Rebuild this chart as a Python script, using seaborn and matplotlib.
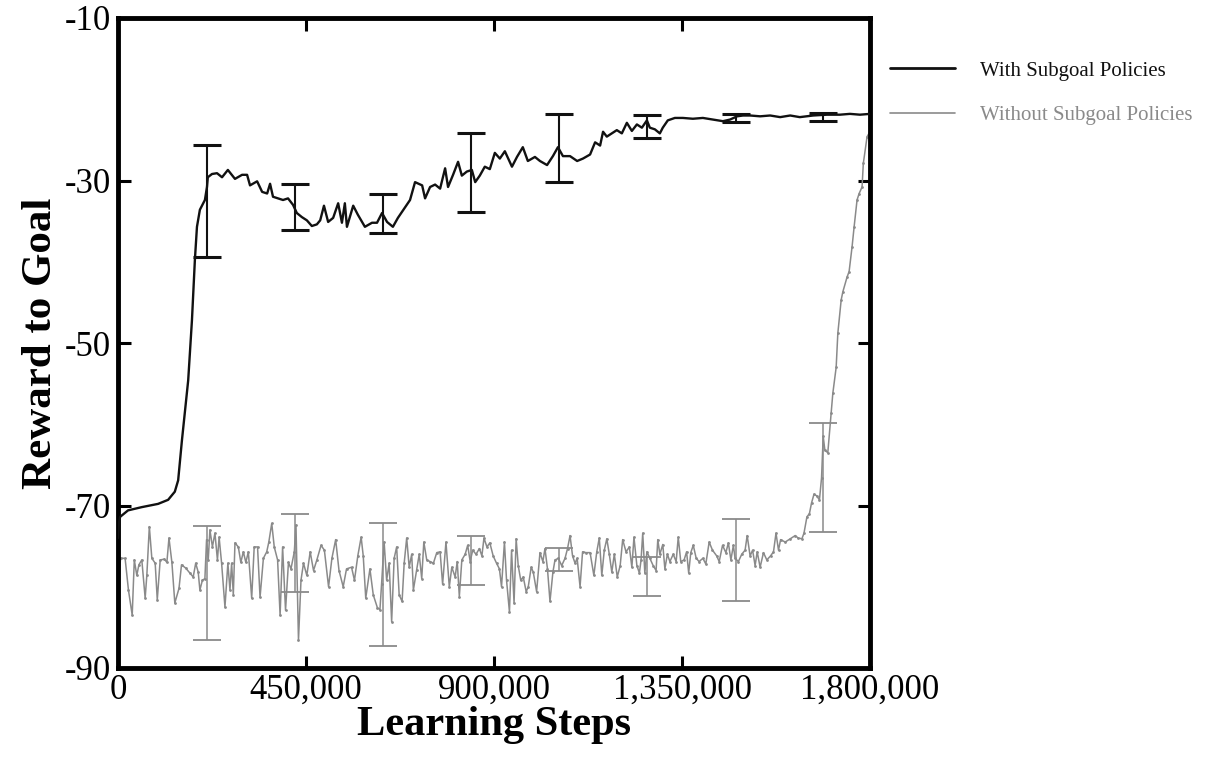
import numpy as np
import pandas as pd
import matplotlib
matplotlib.use("Agg")
import matplotlib.pyplot as plt
import seaborn as sns
from matplotlib.lines import Line2D
from matplotlib.ticker import FuncFormatter

# ---------------- data (learning steps in thousands) ----------------
with_steps_k = [0, 2, 5, 24, 57, 96, 120, 136, 144, 153,
                160, 168, 177, 184, 189, 196, 208, 213, 215, 225,
                237, 249, 263, 280, 297, 309, 316, 333, 345, 357,
                364, 371, 383, 395, 407, 419, 428, 440, 452, 464,
                476, 484, 493, 503, 515, 527, 536, 543, 548, 563,
                574, 591, 608, 620, 632, 644, 658, 670, 687, 699,
                711, 728, 735, 747, 759, 771, 783, 790, 802, 814,
                823, 835, 847, 855, 866, 878, 890, 902, 914, 926,
                943, 955, 969, 981, 998, 1010, 1027, 1041, 1053, 1065,
                1082, 1099, 1113, 1130, 1142, 1154, 1161, 1170, 1182, 1194,
                1206, 1218, 1230, 1242, 1254, 1266, 1273, 1285, 1297, 1304,
                1316, 1333, 1352, 1376, 1400, 1424, 1448, 1465, 1482, 1496,
                1513, 1537, 1561, 1585, 1609, 1632, 1664, 1697, 1728, 1752,
                1776, 1800]
with_reward = [-74.0, -72.2, -71.4, -70.6, -70.2, -69.8, -69.3, -68.3, -66.9, -62.0,
               -58.5, -54.6, -47.2, -39.8, -35.7, -33.6, -32.4, -30.8, -29.6, -29.2,
               -29.1, -29.6, -28.7, -29.8, -29.3, -29.3, -30.6, -30.1, -31.4, -31.6,
               -30.4, -32.0, -32.2, -32.4, -32.2, -33.0, -34.0, -34.5, -34.9, -35.6,
               -35.4, -34.9, -33.1, -35.1, -34.6, -32.8, -35.2, -32.8, -35.7, -33.1,
               -34.2, -35.7, -35.2, -35.2, -34.0, -35.1, -35.7, -34.6, -33.3, -32.4,
               -30.2, -30.6, -32.2, -30.8, -30.5, -31.0, -28.5, -30.8, -29.3, -27.7,
               -29.4, -28.9, -28.7, -30.2, -29.4, -28.3, -28.6, -26.6, -27.3, -26.4,
               -28.3, -27.1, -25.9, -27.6, -27.1, -27.6, -28.1, -27.0, -25.9, -27.0,
               -27.0, -27.6, -27.3, -26.8, -25.3, -25.7, -24.0, -24.6, -24.2, -23.8,
               -24.2, -22.9, -23.9, -23.1, -23.5, -22.6, -23.5, -23.7, -24.2, -23.5,
               -22.6, -22.3, -22.3, -22.4, -22.3, -22.5, -22.7, -22.5, -22.1, -22.0,
               -22.0, -22.1, -22.0, -22.2, -22.0, -22.2, -22.0, -21.9, -21.9, -21.8,
               -21.9, -21.8]

without_steps_k = [0, 6, 17, 25, 34, 39, 45, 50, 57, 65,
                   69, 75, 81, 89, 94, 101, 111, 117, 122, 129,
                   136, 146, 152, 162, 172, 180, 186, 192, 196, 202,
                   208, 212, 216, 220, 226, 232, 238, 242, 248, 256,
                   263, 268, 272, 276, 280, 288, 294, 300, 306, 312,
                   320, 326, 334, 340, 348, 356, 361, 368, 374, 382,
                   388, 394, 401, 408, 414, 422, 426, 432, 438, 444,
                   452, 460, 468, 476, 486, 494, 504, 512, 521, 529,
                   539, 547, 559, 566, 574, 582, 587, 593, 603, 611,
                   621, 627, 631, 637, 643, 649, 655, 661, 667, 673,
                   680, 685, 691, 697, 703, 707, 715, 721, 727, 732,
                   739, 747, 755, 763, 771, 777, 785, 793, 799, 807,
                   812, 817, 823, 831, 837, 843, 849, 857, 865, 871,
                   876, 883, 890, 898, 906, 913, 918, 925, 930, 937,
                   942, 948, 953, 958, 964, 970, 977, 982, 989, 994,
                   1002, 1010, 1017, 1022, 1028, 1034, 1041, 1046, 1054, 1062,
                   1070, 1076, 1082, 1088, 1094, 1099, 1106, 1112, 1120, 1130,
                   1139, 1146, 1152, 1158, 1164, 1170, 1176, 1182, 1188, 1195,
                   1202, 1208, 1216, 1224, 1230, 1235, 1242, 1248, 1252, 1256,
                   1261, 1266, 1273, 1281, 1288, 1292, 1297, 1304, 1309, 1315,
                   1321, 1329, 1336, 1341, 1347, 1355, 1361, 1366, 1371, 1377,
                   1384, 1391, 1400, 1407, 1415, 1423, 1433, 1439, 1447, 1455,
                   1461, 1467, 1473, 1477, 1485, 1493, 1501, 1506, 1513, 1519,
                   1525, 1530, 1537, 1545, 1553, 1562, 1569, 1575, 1581, 1586,
                   1597, 1609, 1621, 1628, 1637, 1642, 1649, 1655, 1660, 1666,
                   1672, 1679, 1684, 1688, 1692, 1699, 1707, 1711, 1719, 1723,
                   1731, 1735, 1745, 1750, 1757, 1762, 1769, 1774, 1781, 1784,
                   1793, 1800]
without_reward = [-81.0, -76.5, -76.5, -80.4, -83.5, -76.7, -78.6, -77.3, -76.7, -81.4,
                  -78.6, -72.6, -76.5, -77.1, -81.6, -76.7, -76.6, -77.0, -74.0, -77.0,
                  -82.0, -80.2, -77.3, -77.7, -78.3, -78.8, -77.1, -78.2, -80.4, -79.2,
                  -79.0, -74.2, -76.7, -73.0, -75.1, -73.4, -76.7, -73.9, -77.1, -82.5,
                  -77.1, -80.4, -77.1, -81.0, -74.6, -75.1, -77.0, -75.7, -77.0, -75.7,
                  -81.4, -75.1, -75.1, -81.3, -76.5, -75.7, -74.5, -72.2, -75.1, -76.7,
                  -83.5, -75.1, -82.9, -77.0, -77.8, -75.7, -72.4, -86.6, -79.2, -77.1,
                  -78.6, -75.7, -78.0, -76.7, -74.9, -75.5, -80.0, -76.5, -74.2, -78.0,
                  -80.0, -77.8, -77.6, -79.2, -76.2, -73.9, -76.2, -81.4, -77.8, -81.0,
                  -82.6, -82.8, -79.6, -74.5, -79.2, -77.1, -84.3, -76.5, -75.1, -81.0,
                  -81.8, -77.1, -74.0, -77.6, -76.0, -80.4, -77.9, -76.0, -79.0, -74.5,
                  -76.7, -76.9, -77.1, -75.8, -75.7, -79.7, -74.5, -80.0, -77.6, -78.8,
                  -76.9, -81.2, -76.7, -76.0, -74.9, -76.9, -75.5, -76.0, -75.3, -76.2,
                  -74.0, -75.1, -74.6, -76.2, -77.1, -77.8, -80.0, -74.5, -79.2, -83.1,
                  -75.5, -82.0, -74.1, -77.4, -79.2, -78.8, -80.6, -80.0, -77.6, -78.2,
                  -80.6, -75.8, -76.9, -75.3, -77.8, -81.8, -78.2, -76.7, -76.5, -77.4,
                  -76.5, -75.3, -73.7, -76.2, -77.1, -76.5, -80.0, -75.7, -75.8, -75.8,
                  -78.6, -75.7, -74.0, -78.6, -75.5, -74.1, -76.0, -78.2, -76.0, -78.8,
                  -77.4, -74.2, -75.7, -75.1, -77.6, -73.9, -77.4, -78.3, -76.7, -73.4,
                  -78.3, -75.7, -76.5, -77.4, -78.0, -74.2, -76.0, -74.8, -77.8, -76.0,
                  -76.9, -76.0, -76.9, -73.9, -76.9, -76.7, -75.7, -78.3, -75.8, -74.9,
                  -76.5, -76.9, -76.5, -77.2, -74.5, -75.5, -76.2, -76.9, -74.9, -75.8,
                  -74.6, -76.7, -74.9, -76.5, -76.9, -76.0, -75.5, -73.7, -76.2, -75.5,
                  -77.4, -75.7, -77.6, -75.8, -76.7, -76.2, -75.7, -73.4, -75.5, -74.2,
                  -74.5, -74.1, -73.7, -74.0, -74.1, -73.4, -71.4, -71.0, -69.7, -68.6,
                  -68.8, -69.3, -66.6, -61.5, -63.2, -63.5, -58.6, -56.2, -53.0, -48.8,
                  -44.7, -43.7, -41.9, -41.2, -38.2, -35.7, -32.4, -31.6, -30.8, -27.9,
                  -24.6, -24.0]

errbar_steps_k = [213, 424, 634, 845, 1056, 1266, 1479, 1688]
with_err_high = [-25.6, -30.4, -31.7, -24.2, -21.8, -21.9, -21.8, -21.7]
with_err_low = [-39.4, -36.1, -36.5, -33.9, -30.2, -24.8, -22.8, -22.7]
without_err_high = [-72.5, -71.0, -72.2, -73.8, -75.2, -76.3, -71.7, -59.9]
without_err_low = [-86.6, -80.6, -87.3, -79.8, -78.1, -81.1, -81.8, -73.3]

x_ticks = [0, 450000, 900000, 1350000, 1800000]
y_ticks = [-90, -70, -50, -30, -10]
series_labels = ["With Subgoal Policies", "Without Subgoal Policies"]

assert len(with_steps_k) == len(with_reward)
assert len(without_steps_k) == len(without_reward)

# ---------------- styling ----------------
sns.set_style("ticks")
plt.rcParams["font.family"] = ["Liberation Serif", "DejaVu Serif"]
plt.rcParams["text.color"] = "black"
plt.rcParams["axes.labelcolor"] = "black"

BLACK = "#111111"
GREY = "#8a8a8a"

fig = plt.figure(figsize=(12.16, 7.64), dpi=100)
ax = fig.add_axes([118 / 1216, 1 - 668 / 764, 752 / 1216, 650 / 764])

df_with = pd.DataFrame({"steps": np.array(with_steps_k) * 1000, "reward": with_reward})
df_without = pd.DataFrame({"steps": np.array(without_steps_k) * 1000, "reward": without_reward})

sns.lineplot(data=df_without, x="steps", y="reward", ax=ax, color=GREY, lw=1.1,
             marker="o", markersize=2.0, markeredgewidth=0, estimator=None,
             sort=False, legend=False, zorder=2)
sns.lineplot(data=df_with, x="steps", y="reward", ax=ax, color=BLACK, lw=1.7,
             estimator=None, sort=False, legend=False, zorder=3)

eb_x = np.array(errbar_steps_k) * 1000
for hi, lo, col, elw, cth in [(with_err_high, with_err_low, BLACK, 1.5, 2.2),
                              (without_err_high, without_err_low, GREY, 1.1, 1.3)]:
    hi = np.array(hi)
    lo = np.array(lo)
    mid = (hi + lo) / 2
    ax.errorbar(eb_x, mid, yerr=(hi - lo) / 2, fmt="none", ecolor=col,
                elinewidth=elw, capsize=10, capthick=cth, zorder=4)

ax.set_xlim(0, 1800000)
ax.set_ylim(-90, -10)
ax.set_xticks(x_ticks)
ax.set_yticks(y_ticks)
ax.xaxis.set_major_formatter(FuncFormatter(lambda v, p: f"{int(round(v)):,}"))
ax.yaxis.set_major_formatter(FuncFormatter(lambda v, p: f"{int(round(v))}"))
ax.tick_params(axis="both", direction="in", length=9, width=2.2, top=True,
               right=True, labelsize=25, colors="black")
ax.tick_params(axis="x", pad=4)
ax.tick_params(axis="y", pad=5)
for s in ax.spines.values():
    s.set_linewidth(3.5)
    s.set_color("black")

ax.set_xlabel("Learning Steps", fontsize=30.5, fontweight="bold", color="black")
ax.set_ylabel("Reward to Goal", fontsize=31, fontweight="bold", color="black")
ax.xaxis.set_label_coords(0.5, -0.058)
ax.yaxis.set_label_coords(-0.077, 0.5)

handles = [Line2D([], [], color=BLACK, lw=2.0), Line2D([], [], color=GREY, lw=1.2)]
fig.legend(handles=handles, labels=series_labels, loc="upper left",
           bbox_to_anchor=(890 / 1216, 1 - 61 / 764), frameon=False, fontsize=15,
           handlelength=3.1, handletextpad=1.2, labelspacing=1.2,
           labelcolor=[BLACK, GREY], borderpad=0, borderaxespad=0)

fig.savefig("out.png", dpi=100, facecolor="white")
